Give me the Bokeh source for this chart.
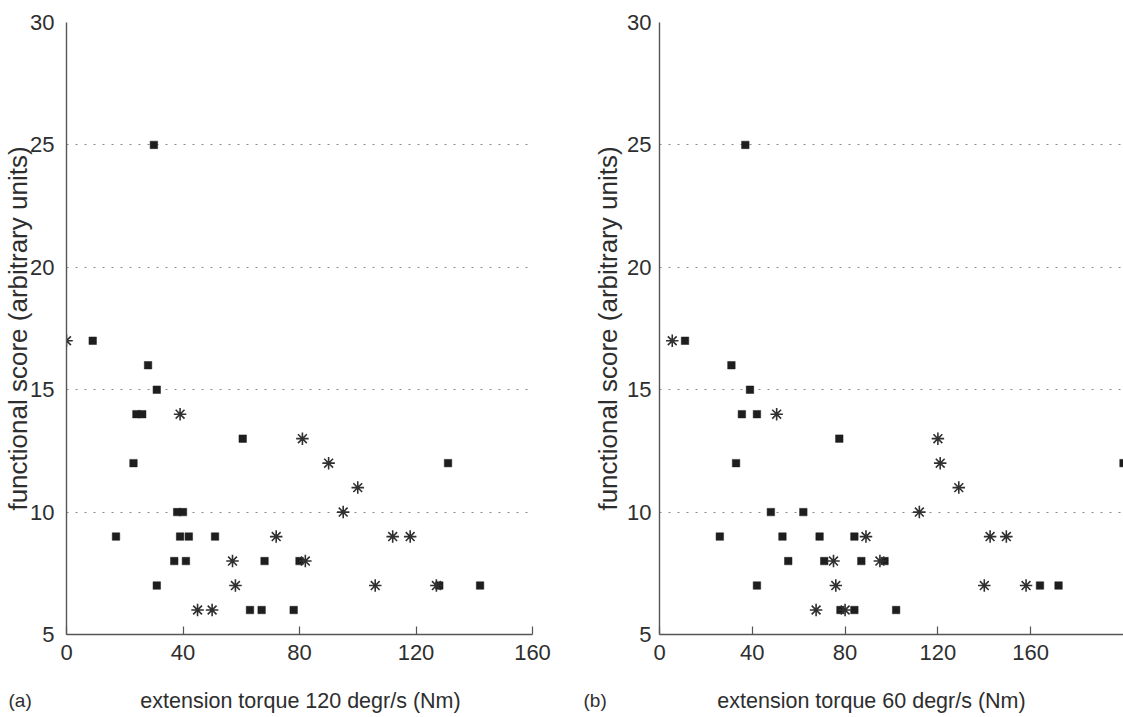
from bokeh.plotting import figure
from bokeh.layouts import row, column
from bokeh.models import Range1d, FixedTicker
from bokeh.core.properties import value
from bokeh.embed import file_html
from bokeh.resources import INLINE

# ---- data ----
y_ticks = [5, 10, 15, 20, 25, 30]
x_ticks = [0, 40, 80, 120, 160]

a_star_x = [0, 39, 81, 90, 100, 95, 72, 112, 118, 57, 82, 58, 106, 127, 45, 50]
a_star_y = [17, 14, 13, 12, 11, 10, 9, 9, 9, 8, 8, 7, 7, 7, 6, 6]
a_sq_x = [9, 28, 31, 24, 26, 60.5, 23, 38, 40, 17, 39, 42, 51, 37, 41, 68, 80, 31, 63, 67, 78, 131, 128, 142, 30]
a_sq_y = [17, 16, 15, 14, 14, 13, 12, 10, 10, 9, 9, 9, 9, 8, 8, 8, 8, 7, 6, 6, 6, 12, 7, 7, 25]

b_star_x = [5.5, 50.5, 89, 75, 95, 76, 67.5, 80, 120, 121, 129, 112, 142.5, 149.5, 140, 158]
b_star_y = [17, 14, 9, 8, 8, 7, 6, 6, 13, 12, 11, 10, 9, 9, 7, 7]
b_sq_x = [11, 31, 39, 35.5, 42, 77.5, 33, 48, 62, 26, 53, 69, 84, 55.5, 71, 87, 97, 42, 78, 84, 102, 164, 172, 200, 37]
b_sq_y = [17, 16, 15, 14, 14, 13, 12, 10, 10, 9, 9, 9, 9, 8, 8, 8, 8, 7, 6, 6, 6, 7, 7, 12, 25]

y_label = "functional score (arbitrary units)"
a_tag, a_xlabel = "(a)", "extension torque 120 degr/s (Nm)"
b_tag, b_xlabel = "(b)", "extension torque 60 degr/s (Nm)"

FONT = "Liberation Sans"
TXT = "#2e2e2e"


def make_panel(width, height, xr, bl, bt, bb, br, tick_standoff, lab_standoff,
               sx, sy, qx, qy):
    p = figure(width=width, height=height, output_backend="svg", toolbar_location=None,
               x_range=Range1d(*xr), y_range=Range1d(5, 30),
               min_border_left=bl, min_border_right=br,
               min_border_top=bt, min_border_bottom=bb)
    p.outline_line_color = None
    p.background_fill_color = "white"
    p.border_fill_color = "white"
    p.xgrid.visible = False
    p.ygrid.ticker = FixedTicker(ticks=y_ticks)
    p.ygrid.grid_line_color = "#8a8a8a"
    p.ygrid.grid_line_dash = "2 7"
    p.ygrid.grid_line_width = 1

    p.xaxis.ticker = FixedTicker(ticks=x_ticks)
    p.yaxis.ticker = FixedTicker(ticks=y_ticks)
    for ax in (p.xaxis, p.yaxis):
        ax.axis_line_color = "#555555"
        ax.axis_line_width = 1.4
        ax.major_label_text_font = FONT
        ax.major_label_text_font_size = "22px"
        ax.major_label_text_color = TXT
        ax.minor_tick_line_color = None
    p.xaxis.major_tick_in = 8
    p.xaxis.major_tick_out = 0
    p.xaxis.major_tick_line_color = "#555555"
    p.xaxis.major_tick_line_width = 1.2
    p.xaxis.major_label_standoff = 10
    p.yaxis.major_tick_in = 0
    p.yaxis.major_tick_out = 0
    p.yaxis.major_label_standoff = tick_standoff
    p.yaxis.axis_label = y_label
    p.yaxis.axis_label_text_font = FONT
    p.yaxis.axis_label_text_font_size = "26px"
    p.yaxis.axis_label_text_font_style = "normal"
    p.yaxis.axis_label_text_color = TXT
    p.yaxis.axis_label_standoff = lab_standoff

    p.scatter(qx, qy, marker="square", size=7.5, fill_color="#1e1e1e",
              line_color="#1e1e1e", line_width=0.5)
    p.scatter(sx, sy, marker="asterisk", size=12.5, line_color="#303030", line_width=1.6)
    return p


def make_strip(width, height, tag, tag_x, label, label_x, ty):
    s = figure(width=width, height=height, output_backend="svg", toolbar_location=None,
               x_range=Range1d(0, width), y_range=Range1d(0, height),
               min_border_left=0, min_border_right=0, min_border_top=0, min_border_bottom=0)
    s.axis.visible = False
    s.grid.visible = False
    s.outline_line_color = None
    s.text(x=[tag_x], y=[ty], text=[tag], text_align="left", text_baseline="middle",
           text_font=value(FONT), text_font_size="19px", text_color=TXT)
    s.text(x=[label_x], y=[ty], text=[label], text_align="center", text_baseline="middle",
           text_font=value(FONT), text_font_size="21.5px", text_color=TXT)
    return s


pa = make_panel(590, 684, (0, 160), 66, 22, 48, 58, 12, -6,
                a_star_x, a_star_y, a_sq_x, a_sq_y)
pb = make_panel(533, 684, (0, 200), 69, 22, 50, 0, 8, 1,
                b_star_x, b_star_y, b_sq_x, b_sq_y)

la = make_strip(575, 33, a_tag, 8, a_xlabel, 300, 17)
lb = make_strip(548, 33, b_tag, 8, b_xlabel, 296, 17)

layout = column(row(pa, pb), row(la, lb))
open("out.html", "w").write(file_html(layout, INLINE))
